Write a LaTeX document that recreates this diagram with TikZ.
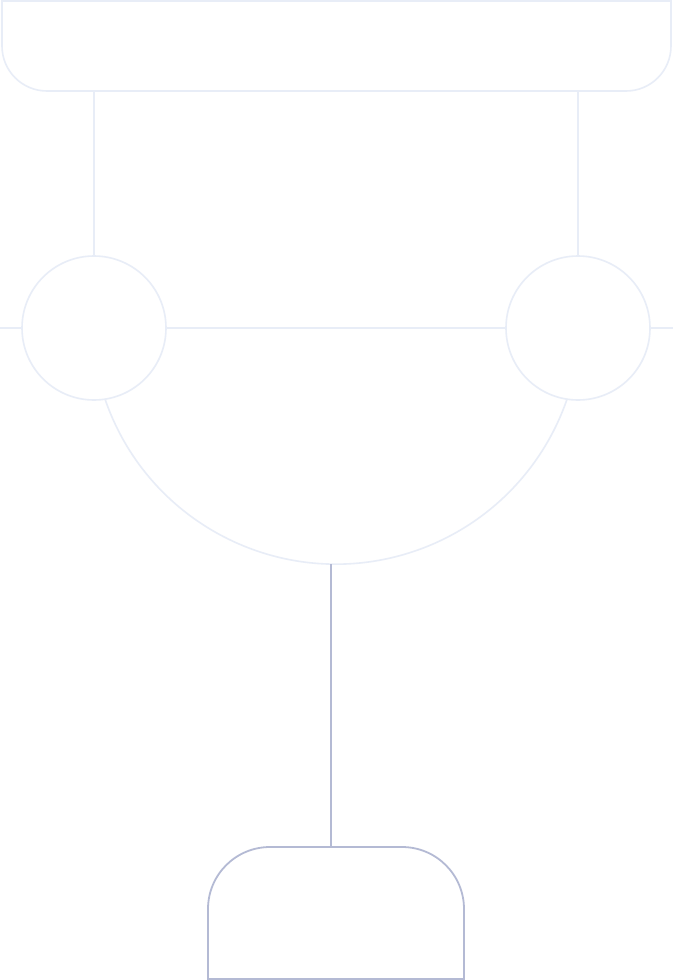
\documentclass[tikz,border=0pt]{standalone}
\definecolor{pale}{HTML}{E8EDF7}
\definecolor{slate}{HTML}{B4BAD4}
\begin{document}
\begin{tikzpicture}[x=1pt,y=-1pt,
  paleline/.style={draw=pale,line width=1.6pt},
  slateline/.style={draw=slate,line width=1.8pt},
  ring/.style={circle,paleline,minimum size=144pt,inner sep=0pt}]
\useasboundingbox[fill=white] (0,0) rectangle (673,980);
% top bar
\draw[paleline] (2,1) -- (2,46) arc[start angle=180,end angle=90,radius=45] -- (626,91)
  arc[start angle=90,end angle=0,radius=45] -- (671,1) -- cycle;
\coordinate (tl) at (94,91);
\coordinate (tr) at (578,91);
\node[ring] (cl) at (94,328) {};
\node[ring] (cr) at (578,328) {};
\coordinate (el) at (0,328);
\coordinate (er) at (673,328);
\draw[paleline] (tl) -- (cl.north);
\draw[paleline] (tr) -- (cr.north);
\draw[paleline] (el) -- (cl.west);
\draw[paleline] (cl.east) -- (cr.west);
\draw[paleline] (cr.east) -- (er);
% bowl
\draw[paleline] (105,399) arc[start angle=161.1,end angle=18.9,radius=244.2];
\coordinate (bowl) at (331,564);
\coordinate (cup) at (331,847);
\draw[slateline] (bowl) -- (cup);
\draw[slateline] (208,979) -- (208,909) arc[start angle=180,end angle=270,radius=62] -- (402,847)
  arc[start angle=270,end angle=360,radius=62] -- (464,979) -- cycle;
\end{tikzpicture}
\end{document}
